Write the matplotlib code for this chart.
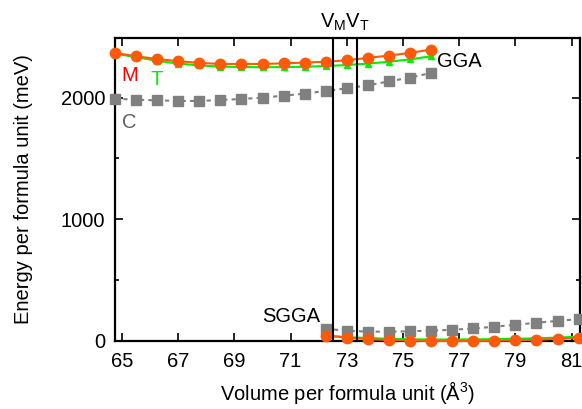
import matplotlib
matplotlib.use('Agg')
from matplotlib import pyplot as plt

plt.rcParams['font.family'] = ['Liberation Sans', 'DejaVu Sans']
plt.rcParams['mathtext.fontset'] = 'custom'
plt.rcParams['mathtext.rm'] = 'Liberation Sans'

# GGA branch
vol_gga = [64.75, 65.5, 66.25, 67.0, 67.75, 68.5, 69.25, 70.0,
           70.75, 71.5, 72.25, 73.0, 73.75, 74.5, 75.25, 76.0]
m_gga = [2368, 2340, 2318, 2299, 2286, 2277, 2277, 2277,
         2282, 2288, 2296, 2307, 2327, 2346, 2368, 2395]
t_gga = [2362, 2333, 2303, 2280, 2265, 2255, 2252, 2250,
         2251, 2254, 2260, 2268, 2280, 2295, 2315, 2340]
c_gga = [1992, 1983, 1978, 1973, 1973, 1981, 1989, 2000,
         2016, 2033, 2055, 2077, 2101, 2134, 2165, 2203]

# SGGA branch
vol_sgga = [72.25, 73.0, 73.75, 74.5, 75.25, 76.0, 76.75,
            77.5, 78.25, 79.0, 79.75, 80.5, 81.25]
m_sgga = [45, 28, 15, 8, 3, 0, 0, 0, 2, 5, 10, 18, 28]
t_sgga = [42, 32, 24, 18, 14, 12, 12, 13, 15, 18, 22, 28, 35]
c_sgga = [100, 85, 77, 76, 80, 85, 92, 103, 117, 133, 150, 165, 180]

v_m = 72.52
v_t = 73.37

orange = '#ff5a0a'
green = '#00ee00'
gray = '#808080'

fig = plt.figure(figsize=(5.82, 4.09), dpi=100)
ax = fig.add_axes([0.1976, 0.1663, 0.7990, 0.7407])

for vol, c, t, m in [(vol_gga, c_gga, t_gga, m_gga), (vol_sgga, c_sgga, t_sgga, m_sgga)]:
    ax.plot(vol, c, color=gray, lw=1.5, ls=(0, (2, 2)), marker='s', ms=7,
            mec=gray, clip_on=False, zorder=3)
    ax.plot(vol, t, color=green, lw=1.5, marker='^', ms=5, clip_on=False, zorder=4)
    ax.plot(vol, m, color=orange, lw=1.5, marker='o', ms=7.5, clip_on=False, zorder=5)

ax.axvline(v_m, color='black', lw=1.5, zorder=6)
ax.axvline(v_t, color='black', lw=1.5, zorder=6)

ax.set_xlim(64.75, 81.3)
ax.set_ylim(0, 2490)
ax.set_xticks([65, 67, 69, 71, 73, 75, 77, 79, 81])
ax.set_yticks([0, 1000, 2000])
ax.set_yticks([500, 1500], minor=True)
ax.tick_params(which='both', direction='in', top=True, right=True,
               labelsize=14.5, width=1.2)
ax.tick_params(axis='x', pad=8)
ax.tick_params(axis='y', pad=7)
ax.tick_params(which='major', length=6)
ax.tick_params(which='minor', length=3)
for s in ax.spines.values():
    s.set_linewidth(1.6)

ax.set_xlabel('Volume per formula unit (Å$^3$)', fontsize=14.5, labelpad=6)
ax.set_ylabel('Energy per formula unit (meV)', fontsize=14.5, labelpad=20)

ax.text(65.28, 2185, 'M', color='red', fontsize=14.5, ha='center', va='center')
ax.text(66.24, 2150, 'T', color=green, fontsize=14.5, ha='center', va='center')
ax.text(65.27, 1798, 'C', color='#606060', fontsize=14.5, ha='center', va='center')
ax.text(76.2, 2296, 'GGA', color='black', fontsize=14.5, ha='left', va='center')
ax.text(72.05, 205, 'SGGA', color='black', fontsize=14.5, ha='right', va='center')
ax.text(72.95, 1.015, r'V$_\mathregular{M}$V$_\mathregular{T}$', fontsize=14.5,
        ha='center', va='bottom', transform=ax.get_xaxis_transform())

plt.savefig('out.png', dpi=100)
